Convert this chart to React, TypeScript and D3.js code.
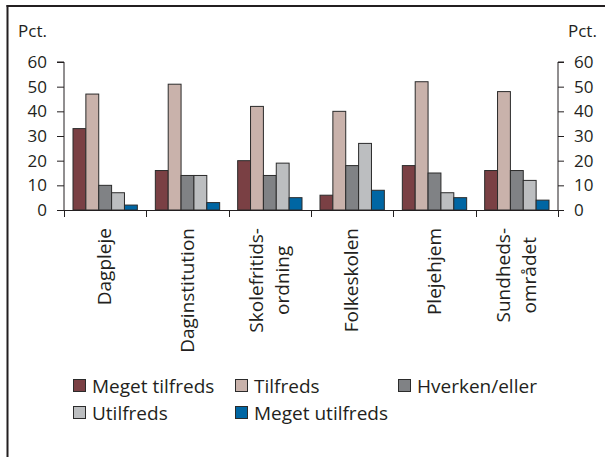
import React, { useEffect, useRef } from "react";
import * as d3 from "d3";

const categories = ["Dagpleje", "Daginstitution", "Skolefritids-\nordning", "Folkeskolen", "Plejehjem", "Sundheds-\nområdet"];
const seriesNames = ["Meget tilfreds", "Tilfreds", "Hverken/eller", "Utilfreds", "Meget utilfreds"];
const seriesColors = ["#7a4044", "#c9b2ab", "#808285", "#bcbec0", "#0066a3"];
const megetTilfreds = [33, 16, 20, 6, 18, 16];
const tilfreds = [47, 51, 42, 40, 52, 48];
const hverkenEller = [10, 14, 14, 18, 15, 16];
const utilfreds = [7, 14, 19, 27, 7, 12];
const megetUtilfreds = [2, 3, 5, 8, 5, 4];
const seriesValues = [megetTilfreds, tilfreds, hverkenEller, utilfreds, megetUtilfreds];
const yTicks = [0, 10, 20, 30, 40, 50, 60];

const W = 605, H = 457;
const FONT = "'Open Sans', sans-serif";

export default function App() {
  const ref = useRef<SVGSVGElement>(null);
  useEffect(() => {
    const svg = d3.select(ref.current);
    svg.selectAll("*").remove();
    const left = 64, right = 558, top = 62, bottom = 210;
    const x0 = d3.scaleBand<number>().domain(d3.range(categories.length)).range([left, right]).paddingInner(0).paddingOuter(0);
    const bw = x0.bandwidth();
    const x1 = d3.scaleBand<number>().domain(d3.range(seriesNames.length)).range([9, bw - 9]).padding(0);
    const y = d3.scaleLinear().domain([0, 60]).range([bottom, top]);

    // frame
    svg.append("line").attr("x1", 7.5).attr("x2", 7.5).attr("y1", 5).attr("y2", H).attr("stroke", "#231f20").attr("stroke-width", 2);
    svg.append("line").attr("x1", 6.5).attr("x2", W).attr("y1", 6).attr("y2", 6).attr("stroke", "#231f20").attr("stroke-width", 2);

    // bars
    const g = svg.append("g");
    categories.forEach((c, ci) => {
      seriesValues.forEach((vals, si) => {
        const v = vals[ci];
        g.append("rect")
          .attr("x", x0(ci)! + x1(si)!)
          .attr("y", y(v))
          .attr("width", x1.bandwidth())
          .attr("height", y(0) - y(v))
          .attr("fill", seriesColors[si])
          .attr("stroke", "#2b2b2b")
          .attr("stroke-width", 1);
      });
    });

    // left axis
    const axL = svg.append("g").attr("transform", `translate(${left},0)`)
      .call(d3.axisLeft(y).tickValues(yTicks).tickSize(7).tickPadding(10).tickFormat(d3.format("d")) as any);
    axL.select(".domain").attr("stroke", "#231f20").attr("d", `M-7,${top}H0V${bottom}`);
    axL.selectAll(".tick line").attr("stroke", "#231f20");
    axL.selectAll("text").attr("font-family", FONT).attr("font-size", 17).attr("fill", "#231f20");

    const axR = svg.append("g").attr("transform", `translate(${right},0)`)
      .call(d3.axisRight(y).tickValues(yTicks).tickSize(6).tickPadding(10).tickFormat(d3.format("d")) as any);
    axR.select(".domain").attr("stroke", "#231f20").attr("d", `M6,${top}H0V${bottom}`);
    axR.selectAll(".tick line").attr("stroke", "#231f20");
    axR.selectAll("text").attr("font-family", FONT).attr("font-size", 17).attr("fill", "#231f20");

    // x axis
    svg.append("line").attr("x1", left - 7).attr("x2", right).attr("y1", bottom + 0.5).attr("y2", bottom + 0.5).attr("stroke", "#231f20");
    for (let i = 0; i <= categories.length; i++) {
      const xx = Math.round(left + i * bw) + 0.5;
      svg.append("line").attr("x1", xx).attr("x2", xx).attr("y1", bottom).attr("y2", bottom + 7).attr("stroke", "#231f20");
    }

    // units
    svg.append("text").attr("x", 47).attr("y", 37).attr("text-anchor", "end").attr("font-family", FONT).attr("font-size", 17).attr("fill", "#231f20").text("Pct.");
    svg.append("text").attr("x", 568).attr("y", 37).attr("font-family", FONT).attr("font-size", 17).attr("fill", "#231f20").text("Pct.");

    // category labels
    const labelTop = 228;
    categories.forEach((c, ci) => {
      const lines = c.split("\n");
      const cx = x0(ci)! + bw / 2;
      const lg = svg.append("g");
      const texts = lines.map((ln, li) => {
        const off = lines.length === 1 ? 6 : (li === 0 ? -7 : 19);
        return lg.append("text")
          .attr("font-family", FONT).attr("font-size", 19).attr("fill", "#231f20")
          .attr("text-anchor", "middle")
          .attr("data-x", cx + off)
          .text(ln);
      });
      const lens = texts.map(t => (t.node() as SVGTextElement).getComputedTextLength());
      const maxLen = d3.max(lens)!;
      const cy = labelTop + maxLen / 2;
      texts.forEach(t => {
        const bx = +t.attr("data-x");
        t.attr("transform", `translate(${bx},${cy}) rotate(-90)`);
      });
    });

    // legend
    const legend = [
      { si: 0, x: 73, y: 386 },
      { si: 1, x: 235, y: 386 },
      { si: 2, x: 398, y: 386 },
      { si: 3, x: 73, y: 413 },
      { si: 4, x: 235, y: 413 },
    ];
    legend.forEach(l => {
      svg.append("rect").attr("x", l.x + 0.5).attr("y", l.y - 6.5).attr("width", 12).attr("height", 12)
        .attr("fill", seriesColors[l.si]).attr("stroke", "#2b2b2b").attr("stroke-width", 1);
      svg.append("text").attr("x", l.x + 19).attr("y", l.y + 6.5).attr("font-family", FONT).attr("font-size", 19).attr("fill", "#231f20").text(seriesNames[l.si]);
    });
  }, []);
  return (
    <svg ref={ref} width={W} height={H} style={{ position: "absolute", left: 0, top: 0, background: "#fff" }} />
  );
}
